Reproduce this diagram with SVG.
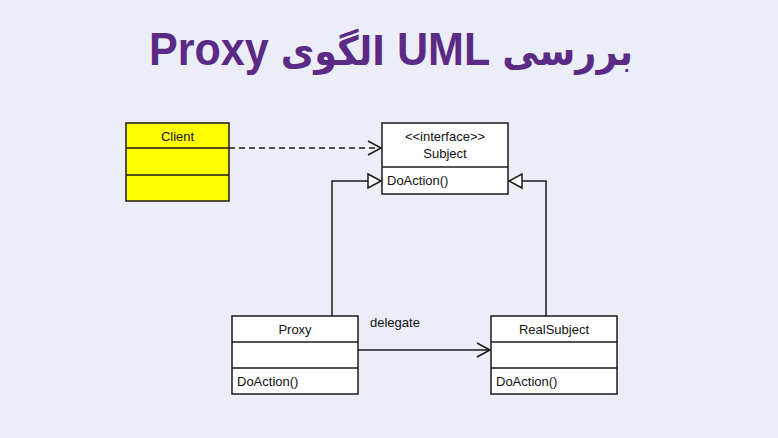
<svg xmlns="http://www.w3.org/2000/svg" width="778" height="438" viewBox="0 0 778 438">
<defs>
<style>
.box{fill:#fff;stroke:#1a1a1a;stroke-width:1.5}
.yb{fill:#ffff00;stroke:#1a1a1a;stroke-width:1.5}
.ln{stroke:#1a1a1a;stroke-width:1.5;fill:none}
.t{font-family:"Liberation Sans",Arial,sans-serif;font-size:13px;fill:#111}
.c{text-anchor:middle}
.ar{font-size:40px}
</style>
<marker id="open" markerWidth="16" markerHeight="16" refX="14" refY="8" orient="auto" markerUnits="userSpaceOnUse">
<path d="M1,1 L14,8 L1,15" fill="none" stroke="#1a1a1a" stroke-width="1.5"/>
</marker>
<marker id="tri" markerWidth="18" markerHeight="18" refX="14" refY="9" orient="auto" markerUnits="userSpaceOnUse">
<path d="M1,2 L14,9 L1,16 Z" fill="#fff" stroke="#1a1a1a" stroke-width="1.5"/>
</marker>
</defs>
<rect width="778" height="438" fill="#eceef7"/>
<text x="633" y="65" direction="rtl" unicode-bidi="embed" text-anchor="start" textLength="484" lengthAdjust="spacingAndGlyphs" font-family="'Liberation Sans','DejaVu Sans',sans-serif" font-weight="bold" font-size="47" fill="#5b2a86"><tspan class="ar">بررسی</tspan> UML <tspan class="ar">الگوی</tspan> Proxy</text>
<g id="connectors">
<line class="ln" x1="229" y1="148" x2="381" y2="148" stroke-dasharray="6,4" marker-end="url(#open)"/>
<polyline class="ln" points="332,316 332,181 381,181" marker-end="url(#tri)"/>
<polyline class="ln" points="546,316 546,181 509,181" marker-end="url(#tri)"/>
<line class="ln" x1="358" y1="350" x2="490" y2="350" marker-end="url(#open)"/>
<text class="t" x="370" y="327">delegate</text>
</g>
<g id="client">
<rect class="yb" x="126" y="123" width="103" height="78"/>
<line class="ln" x1="126" y1="148" x2="229" y2="148"/>
<line class="ln" x1="126" y1="175" x2="229" y2="175"/>
<text class="t c" x="177.5" y="141">Client</text>
</g>
<g id="subject">
<rect class="box" x="382" y="123" width="126" height="71"/>
<line class="ln" x1="382" y1="167" x2="508" y2="167"/>
<text class="t c" x="445" y="141">&lt;&lt;interface&gt;&gt;</text>
<text class="t c" x="445" y="158">Subject</text>
<text class="t" x="387" y="185">DoAction()</text>
</g>
<g id="proxy">
<rect class="box" x="232" y="316" width="126" height="78"/>
<line class="ln" x1="232" y1="342" x2="358" y2="342"/>
<line class="ln" x1="232" y1="368" x2="358" y2="368"/>
<text class="t c" x="295" y="334">Proxy</text>
<text class="t" x="237" y="386">DoAction()</text>
</g>
<g id="realsubject">
<rect class="box" x="491" y="316" width="126" height="78"/>
<line class="ln" x1="491" y1="342" x2="617" y2="342"/>
<line class="ln" x1="491" y1="368" x2="617" y2="368"/>
<text class="t c" x="554" y="334">RealSubject</text>
<text class="t" x="496" y="386">DoAction()</text>
</g>
</svg>
